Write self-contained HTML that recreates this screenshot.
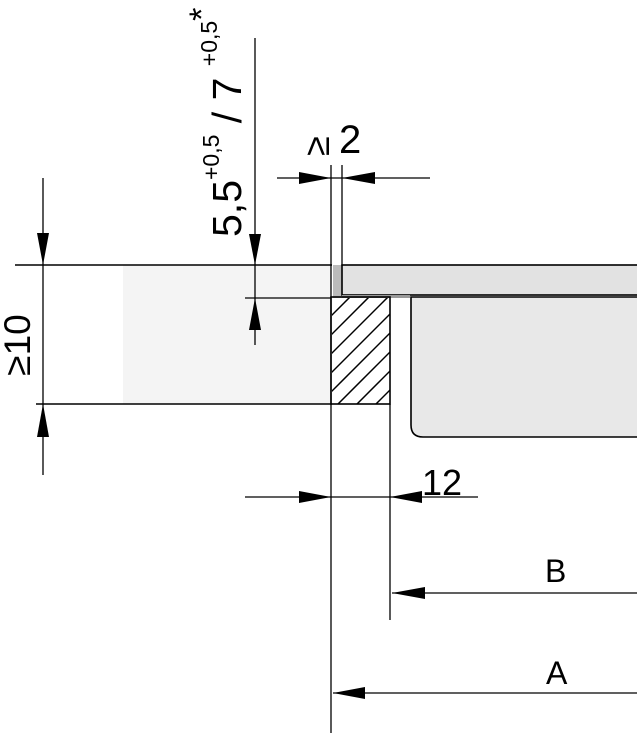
<!DOCTYPE html>
<html><head><style>html,body{margin:0;padding:0;background:#fff}svg{display:block}</style></head>
<body>
<svg width="637" height="733" viewBox="0 0 637 733" xmlns="http://www.w3.org/2000/svg" font-family="Liberation Sans, sans-serif">
<defs>
<clipPath id="c"><rect x="332" y="298" width="58" height="106"/></clipPath>
</defs>
<rect x="123" y="265" width="208" height="139" fill="#f4f4f4"/>
<line x1="15" y1="265" x2="332" y2="265" stroke="#000" stroke-width="1.6"/>
<line x1="36" y1="404" x2="332" y2="404" stroke="#000" stroke-width="1.6"/>
<rect x="333" y="265" width="9" height="33" fill="#bbb"/>
<rect x="342" y="265" width="300" height="30" fill="#e2e2e2" stroke="#000" stroke-width="1.6"/>
<rect x="342" y="295" width="68" height="3" fill="#999"/>
<path d="M411 297 V425 Q411 437 423 437 H640 V297 Z" fill="#e8e8e8" stroke="#000" stroke-width="1.6"/>
<g clip-path="url(#c)">
<g stroke="#000" stroke-width="1.5">
<line x1="300" y1="404" x2="410" y2="294"/>
<line x1="319" y1="404" x2="429" y2="294"/>
<line x1="338" y1="404" x2="448" y2="294"/>
<line x1="357" y1="404" x2="467" y2="294"/>
<line x1="376" y1="404" x2="486" y2="294"/>
<line x1="281" y1="404" x2="391" y2="294"/>
<line x1="262" y1="404" x2="372" y2="294"/>
<line x1="243" y1="404" x2="353" y2="294"/>
</g></g>
<rect x="331" y="297" width="59" height="107" fill="none" stroke="#000" stroke-width="1.6"/>
<line x1="331" y1="165" x2="331" y2="733" stroke="#000" stroke-width="1.3"/>
<line x1="342" y1="165" x2="342" y2="266" stroke="#000" stroke-width="1.3"/>
<line x1="390" y1="404" x2="390" y2="620" stroke="#000" stroke-width="1.3"/>
<line x1="255" y1="38" x2="255" y2="345" stroke="#000" stroke-width="1.3"/>
<line x1="245" y1="298" x2="331" y2="298" stroke="#000" stroke-width="1.2"/>
<polygon points="249,234 261,234 255,265" fill="#000"/>
<polygon points="249,330 261,330 255,298" fill="#000"/>
<text transform="translate(241,237) rotate(-90)" font-size="41">5,5<tspan font-size="23" dy="-22">+0,5</tspan><tspan font-size="41" dy="22"> / 7 </tspan><tspan font-size="23" dy="-24">+0,5</tspan><tspan font-size="34" dy="-4">*</tspan></text>
<line x1="277" y1="178" x2="430" y2="178" stroke="#000" stroke-width="1.2"/>
<polygon points="299,172 299,184 331,178" fill="#000"/>
<polygon points="375,172 375,184 342,178" fill="#000"/>
<text transform="translate(329,146) rotate(-90)" font-size="36" text-anchor="middle">≥</text>
<text x="339" y="153" font-size="40">2</text>
<line x1="43" y1="178" x2="43" y2="475" stroke="#000" stroke-width="1.3"/>
<polygon points="37,233 49,233 43,265" fill="#000"/>
<polygon points="37,437 49,437 43,404" fill="#000"/>
<text transform="translate(30,345) rotate(-90)" font-size="37" text-anchor="middle">≥10</text>
<line x1="245" y1="497" x2="478" y2="497" stroke="#000" stroke-width="1.2"/>
<polygon points="299,491 299,503 331,497" fill="#000"/>
<polygon points="422,491 422,503 390,497" fill="#000"/>
<text x="422" y="495" font-size="36">12</text>
<line x1="392" y1="593" x2="637" y2="593" stroke="#000" stroke-width="1.2"/>
<polygon points="425,587 425,599 392,593" fill="#000"/>
<text x="545" y="582" font-size="32">B</text>
<line x1="333" y1="693" x2="637" y2="693" stroke="#000" stroke-width="1.2"/>
<polygon points="365,687 365,699 333,693" fill="#000"/>
<text x="546" y="684" font-size="32">A</text>
</svg>
</body></html>
